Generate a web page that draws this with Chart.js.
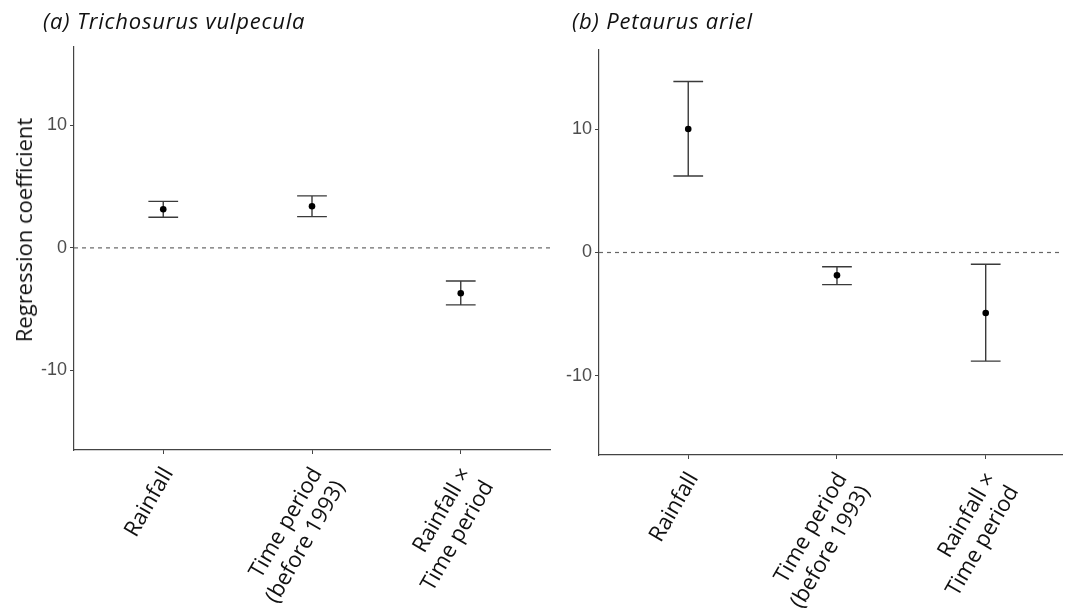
<!DOCTYPE html>
<html>
<head>
<meta charset="utf-8">
<script src="https://cdn.jsdelivr.net/npm/chart.js@4/dist/chart.umd.min.js"></script>
<style>
  html, body { margin: 0; padding: 0; background: #fff; }
  #wrap { position: relative; width: 1066px; height: 615px; overflow: hidden; }
  canvas { position: absolute; top: 0; }
  #left { left: 0; }
  #right { left: 560px; }
  .panel-title {
    position: absolute; top: 6px; margin: 0;
    font: italic 22px/28px "Open Sans", sans-serif;
    letter-spacing: 0.8px;
    color: #111; white-space: nowrap;
  }
  #ytitle {
    position: absolute; left: 23px; top: 230px;
    font: 22px/1 "Open Sans", sans-serif;
    color: #111; white-space: nowrap;
    transform: translate(-50%, -50%) rotate(-90deg);
  }
</style>
</head>
<body>
<div id="wrap">
  <canvas id="left" width="560" height="615"></canvas>
  <canvas id="right" width="506" height="615"></canvas>
  <div class="panel-title" style="left:43px">(a) Trichosurus vulpecula</div>
  <div class="panel-title" style="left:572px">(b) Petaurus ariel</div>
  <div id="ytitle">Regression coefficient</div>
</div>
<script>
(function () {
  'use strict';

  // categories on the x axis (discrete positions 1..3)
  var categories = [['Rainfall'], ['Time period', '(before 1993)'], ['Rainfall \u00d7', 'Time period']];
  var positions = [1, 2, 3];
  var yTicks = [-10, 0, 10];

  // (a) Trichosurus vulpecula
  var trichoEst = [3.15, 3.4, -3.7];
  var trichoLow = [2.5, 2.55, -4.65];
  var trichoHigh = [3.8, 4.25, -2.7];

  // (b) Petaurus ariel
  var petaurusEst = [10.0, -1.85, -4.9];
  var petaurusLow = [6.2, -2.6, -8.8];
  var petaurusHigh = [13.85, -1.15, -0.95];

  var labelFont = '"Open Sans", Lato, sans-serif';
  var tickFont = '"Liberation Sans", Arial, sans-serif';
  var axisColor = '#444';

  var errorBars = {
    id: 'errorBars',
    beforeDatasetsDraw: function (chart) {
      var ds = chart.data.datasets[1];
      if (!ds || !ds.errLow) return;
      var x = chart.scales.x, y = chart.scales.y;
      var ctx = chart.ctx;
      ctx.save();
      ctx.strokeStyle = '#3a3a3a';
      ctx.lineWidth = 1.4;
      ds.data.forEach(function (p, i) {
        var cx = x.getPixelForValue(p.x);
        var x0 = x.getPixelForValue(p.x - 0.1);
        var x1 = x.getPixelForValue(p.x + 0.1);
        var yl = y.getPixelForValue(ds.errLow[i]);
        var yh = y.getPixelForValue(ds.errHigh[i]);
        ctx.beginPath();
        ctx.moveTo(cx, yl); ctx.lineTo(cx, yh);
        ctx.moveTo(x0, yl); ctx.lineTo(x1, yl);
        ctx.moveTo(x0, yh); ctx.lineTo(x1, yh);
        ctx.stroke();
      });
      ctx.restore();
    }
  };

  function makeChart(id, cfg) {
    var el = document.getElementById(id);
    var pts = positions.map(function (p, i) { return { x: p, y: cfg.est[i] }; });
    return new Chart(el, {
      type: 'scatter',
      data: {
        datasets: [{
          type: 'line',
          data: [{ x: cfg.xMin, y: 0 }, { x: cfg.xMax, y: 0 }],
          borderColor: '#666',
          borderWidth: 1.2,
          borderDash: [4, 4],
          pointRadius: 0,
          fill: false
        }, {
          data: pts,
          errLow: cfg.low,
          errHigh: cfg.high,
          backgroundColor: '#000',
          borderColor: '#000',
          pointRadius: 3.3,
          borderWidth: 0
        }]
      },
      plugins: [errorBars],
      options: {
        responsive: false,
        devicePixelRatio: 1,
        animation: false,
        events: [],
        layout: { padding: { left: 0, right: cfg.padRight, top: cfg.padTop, bottom: 0 } },
        plugins: {
          legend: { display: false },
          tooltip: { enabled: false }
        },
        scales: {
          x: {
            type: 'linear',
            min: cfg.xMin,
            max: cfg.xMax,
            afterBuildTicks: function (s) { s.ticks = positions.map(function (v) { return { value: v }; }); },
            afterFit: function (s) { s.height = cfg.xHeight; },
            border: { color: axisColor, width: 1.2 },
            grid: { drawOnChartArea: false, drawTicks: true, tickLength: 4, color: axisColor },
            ticks: {
              autoSkip: false,
              minRotation: 60,
              maxRotation: 60,
              padding: 9,
              labelOffset: 5,
              color: '#111',
              font: { family: labelFont, size: 22 },
              callback: function (v) { return categories[positions.indexOf(v)]; }
            }
          },
          y: {
            min: cfg.yMin,
            max: cfg.yMax,
            afterBuildTicks: function (s) { s.ticks = yTicks.map(function (v) { return { value: v }; }); },
            afterFit: function (s) { s.width = cfg.yWidth; },
            border: { color: axisColor, width: 1.2 },
            grid: { drawOnChartArea: false, drawTicks: true, tickLength: 4, color: axisColor },
            ticks: {
              padding: 3,
              color: '#4d4d4d',
              font: { family: tickFont, size: 18 }
            }
          }
        }
      }
    });
  }

  makeChart('left', {
    est: trichoEst, low: trichoLow, high: trichoHigh,
    xMin: 0.4, xMax: 3.6, yMin: -16.5, yMax: 16.4,
    padRight: 10, padTop: 47, xHeight: 165, yWidth: 74
  });

  makeChart('right', {
    est: petaurusEst, low: petaurusLow, high: petaurusHigh,
    xMin: 0.4, xMax: 3.513, yMin: -16.4, yMax: 16.4,
    padRight: 0, padTop: 50, xHeight: 160, yWidth: 39
  });
})();
</script>
</body>
</html>
